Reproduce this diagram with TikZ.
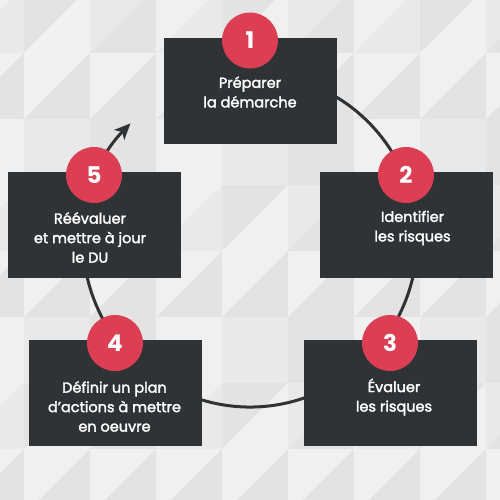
\documentclass[tikz,border=0pt]{standalone}
\usepackage{fontspec}
\setmainfont{Poppins}
\newfontfamily\labelfont[FakeBold=2]{Poppins}
\usetikzlibrary{arrows.meta}
\definecolor{shade0}{HTML}{F0F0F0}
\definecolor{shade1}{HTML}{E9E9E9}
\definecolor{shade2}{HTML}{E3E3E3}
\definecolor{boxc}{HTML}{2F3335}
\definecolor{redc}{HTML}{DC3F53}
\begin{document}
\begin{tikzpicture}[x=1pt,y=-1pt,
  stepbox/.style={fill=boxc, minimum width=172.7pt, minimum height=105.4pt, inner sep=0pt},
  numdisc/.style={circle, fill=redc, minimum size=56pt, inner sep=0pt, text=white,
    font=\fontsize{23}{23}\selectfont\bfseries},
  label/.style={text=white, align=center, inner sep=0pt,
    font=\labelfont\fontsize{14.5}{19.5}\selectfont},
  ring/.style={draw=boxc, line width=3pt}]
\useasboundingbox (0,0) rectangle (500,500);
\begin{scope}
\clip (0,0) rectangle (500,500);
\fill[shade0] (0,0) rectangle (500,500);
\foreach \i in {0,...,8}{
  \foreach \j in {0,...,7}{
    \pgfmathtruncatemacro\ua{mod(\i*5+\j*3+\i*\j,3)}
    \pgfmathtruncatemacro\lb{mod(\i*2+\j*7+\i*\j+1,3)}
    \fill[shade\ua] (-42+66*\i,-13+66*\j) -- ++(66,0) -- ++(-66,66) -- cycle;
    \fill[shade\lb] (24+66*\i,-13+66*\j) -- ++(0,66) -- ++(-66,0) -- cycle;
  }
}
\end{scope}
\coordinate (ctr) at (250,240);
\draw[ring, -{Stealth[length=16pt,width=14pt,inset=4pt]}] (ctr) ++(-110:167) arc[start angle=-110, end angle=224.3, radius=167];
\node[stepbox] (b1) at (250.4,90.8) {};
\node[stepbox] (b2) at (406.4,225) {};
\node[stepbox] (b3) at (390.4,392.8) {};
\node[stepbox] (b4) at (115.4,392.8) {};
\node[stepbox] (b5) at (94.4,225) {};
\node[numdisc] (n1) at (250,40.5) {1};
\node[numdisc] (n2) at (406,175) {2};
\node[numdisc] (n3) at (390,343) {3};
\node[numdisc] (n4) at (115,343) {4};
\node[numdisc] (n5) at (94,175) {5};
\node[label] (t1) at (250,92) {Préparer\\la démarche};
\node[label] (t2) at (412.5,228) {Identifier\\les risques};
\node[label] (t3) at (394,397) {Évaluer\\les risques};
\node[label] (t4) at (114.5,406.5) {Définir un plan\\d’actions à mettre\\en oeuvre};
\node[label] (t5) at (90,237.5) {Réévaluer\\et mettre à jour\\le DU};
\end{tikzpicture}
\end{document}
